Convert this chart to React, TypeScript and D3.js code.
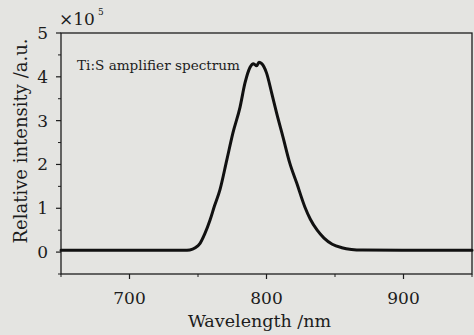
import * as d3 from 'd3'

// wavelength (nm) / relative intensity (x10^5)
const wavelengths = [650, 700, 740, 744, 748, 751.5, 755, 758.8, 762, 766, 771, 775.5, 780.7, 784.3, 788, 790.5, 792.8, 794.5, 796.5, 800, 803.8, 807.4, 812, 817, 822, 828, 832, 837, 842, 848, 855, 862, 870, 900, 950]
const intensity = [0.04, 0.04, 0.04, 0.05, 0.1, 0.2, 0.42, 0.73, 1.05, 1.42, 2.1, 2.72, 3.31, 3.86, 4.22, 4.3, 4.25, 4.33, 4.3, 4.09, 3.63, 3.17, 2.63, 2.03, 1.58, 1.03, 0.75, 0.5, 0.32, 0.18, 0.1, 0.06, 0.045, 0.04, 0.04]

const xTicks = [700, 800, 900]
const xMinor = [650, 750, 850, 950]
const yTicks = [0, 1, 2, 3, 4, 5]
const yMinor = [-0.5, 0.5, 1.5, 2.5, 3.5, 4.5]

const W = 474
const H = 335
const margin = { left: 61, right: 2, top: 33, bottom: 61 }
const FONT = '"DejaVu Serif", serif'
const INK = '#1c1c1c'

export default function App() {
  const x = d3.scaleLinear().domain([650, 950]).range([margin.left, W - margin.right])
  const y = d3.scaleLinear().domain([-0.5, 5]).range([H - margin.bottom, margin.top])
  const pts = wavelengths.map((w, i) => [w, intensity[i]] as [number, number])
  const line = d3.line<[number, number]>()
    .x(d => x(d[0]))
    .y(d => y(d[1]))
    .curve(d3.curveMonotoneX)

  const x0 = x.range()[0], x1 = x.range()[1]
  const y0 = y.range()[0], y1 = y.range()[1]

  return (
    <svg width={W} height={H} style={{ position: 'absolute', left: 0, top: 0, background: '#e4e4e1' }}>
      <rect x={0} y={0} width={W} height={H} fill="#e4e4e1" />
      {/* frame */}
      <rect x={x0} y={y1} width={x1 - x0} height={y0 - y1} fill="none" stroke={INK} strokeWidth={1.3} />

      {/* x ticks */}
      {xTicks.map(t => (
        <g key={'xt' + t}>
          <line x1={x(t)} x2={x(t)} y1={y0} y2={y0 + 5} stroke={INK} strokeWidth={1.2} />
          <text x={x(t)} y={y0 + 30} textAnchor="middle" fontFamily={FONT} fontSize={17} fill={INK}>{t}</text>
        </g>
      ))}
      {xMinor.map(t => (
        <line key={'xm' + t} x1={x(t)} x2={x(t)} y1={y0} y2={y0 + 3} stroke={INK} strokeWidth={1} />
      ))}

      {/* y ticks */}
      {yTicks.map(t => (
        <g key={'yt' + t}>
          <line x1={x0 - 5} x2={x0} y1={y(t)} y2={y(t)} stroke={INK} strokeWidth={1.2} />
          <text x={x0 - 13} y={y(t) + 6} textAnchor="end" fontFamily={FONT} fontSize={17} fill={INK}>{t}</text>
        </g>
      ))}
      {yMinor.map(t => (
        <line key={'ym' + t} x1={x0 - 3} x2={x0} y1={y(t)} y2={y(t)} stroke={INK} strokeWidth={1} />
      ))}

      {/* multiplier */}
      <text x={59} y={25} fontFamily={FONT} fontSize={17} fill={INK}>×10</text>
      <text x={98} y={15} fontFamily={FONT} fontSize={9} fill={INK}>5</text>

      {/* axis titles */}
      <text x={(x0 + x1) / 2 - 7} y={327} textAnchor="middle" fontFamily={FONT} fontSize={17.5} fill={INK}>Wavelength /nm</text>
      <text transform={`translate(27,${141}) rotate(-90)`} textAnchor="middle" fontFamily={FONT} fontSize={18} fill={INK}>Relative intensity /a.u.</text>

      {/* annotation */}
      <text x={77} y={70} fontFamily={FONT} fontSize={13.6} fill={INK}>Ti:S amplifier spectrum</text>

      {/* spectrum */}
      <path d={line(pts) ?? ''} fill="none" stroke="#111" strokeWidth={3} strokeLinejoin="round" strokeLinecap="round" />
    </svg>
  )
}
